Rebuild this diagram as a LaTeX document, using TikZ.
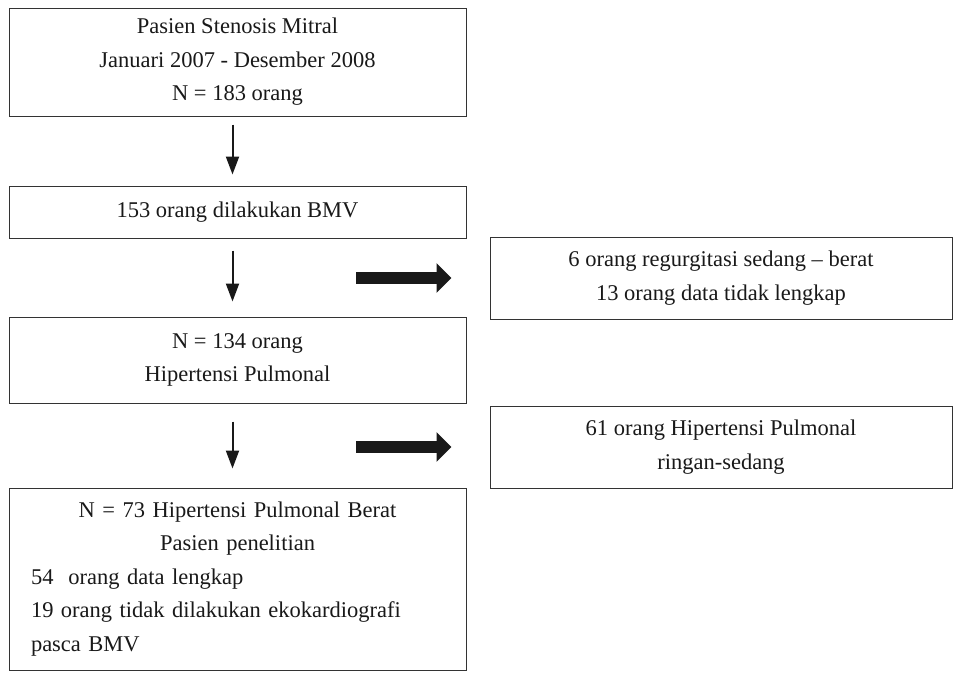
\documentclass[tikz,border=0pt]{standalone}
\usepackage{fontspec}
\setmainfont{Liberation Serif}
\usepackage{tikz}
\usetikzlibrary{arrows.meta, positioning}

\begin{document}
\begin{tikzpicture}[x=1pt, y=-1pt]
\tikzstyle{process} = [rectangle, minimum width=457pt, text centered, draw=black!80, line width=1pt, text=black!90, inner sep=0pt, font=\fontsize{22.5}{33.5}\selectfont]
\tikzstyle{excl} = [process, minimum width=462pt, minimum height=82pt]
\tikzstyle{arrow} = [line width=2pt, draw=black!90, -{Triangle[width=13pt,length=18pt]}]
\tikzstyle{fatarrow} = [line width=12pt, draw=black!90, -{Triangle[width=29pt,length=15pt]}]

\useasboundingbox (0,0) rectangle (953,672);

\node (start) [process, minimum height=108pt, align=center] at (237.5,62) {Pasien Stenosis Mitral\\Januari 2007 - Desember 2008\\N = 183 orang};
\node (bmv) [process, minimum height=52pt] at (237.5,212) {153 orang dilakukan BMV};
\node (ph) [process, minimum height=86pt, align=center] at (237.5,360) {N = 134 orang\\Hipertensi Pulmonal};
\node (berat) [process, minimum height=182pt, inner xsep=22pt, text width=413pt, align=left] at (237.5,579) {\makebox[\linewidth]{N = 73 Hipertensi Pulmonal Berat}\\\makebox[\linewidth]{Pasien penelitian}\\54~ orang data lengkap\\19 orang tidak dilakukan ekokardiografi\\pasca BMV};

\node (excl1) [excl, align=center] at (721,278) {6 orang regurgitasi sedang -- berat\\13 orang data tidak lengkap};
\node (excl2) [excl, align=center] at (721,447) {61 orang Hipertensi Pulmonal\\ringan-sedang};

\coordinate (f1) at (356,278);
\coordinate (f2) at (356,447);

\draw [arrow, shorten <=8pt, shorten >=11pt] ([xshift=-5pt]start.south) -- ([xshift=-5pt]bmv.north);
\draw [arrow, shorten <=12pt, shorten >=15pt] ([xshift=-5pt]bmv.south) -- ([xshift=-5pt]ph.north);
\draw [arrow, shorten <=18pt, shorten >=19pt] ([xshift=-5pt]ph.south) -- ([xshift=-5pt]berat.north);
\draw [fatarrow, shorten >=38pt] (f1) -- (excl1.west);
\draw [fatarrow, shorten >=38pt] (f2) -- (excl2.west);
\end{tikzpicture}
\end{document}
